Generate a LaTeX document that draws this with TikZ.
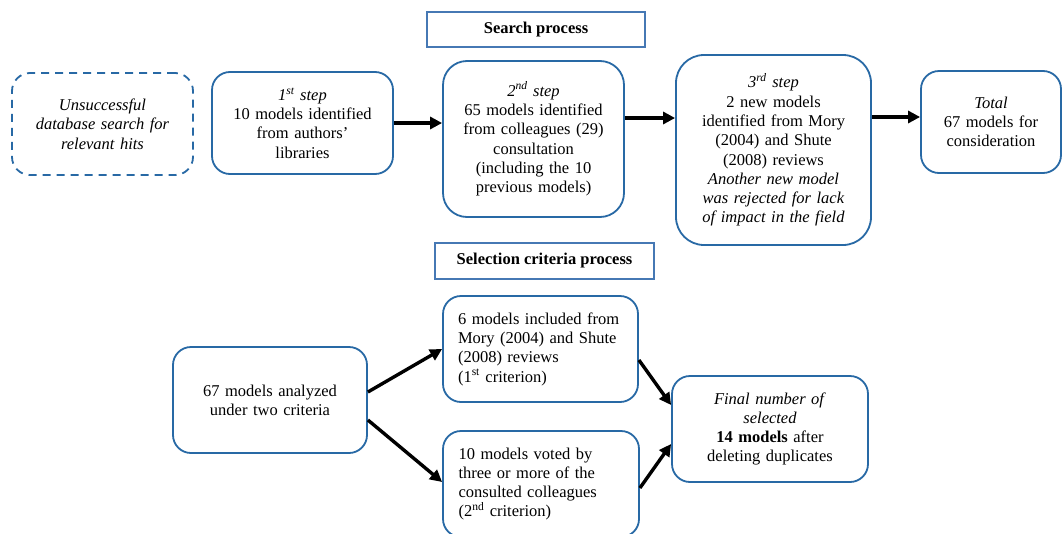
\documentclass[tikz,border=0pt]{standalone}
\usepackage{fontspec}
\setmainfont{Liberation Serif}
\usetikzlibrary{arrows.meta,calc}
\definecolor{bord}{RGB}{40,105,165}
\definecolor{hbord}{RGB}{70,120,180}
\begin{document}
\begin{tikzpicture}[x=1pt,y=-1pt,
  box/.style={draw=bord,line width=1.8pt,rounded corners=18pt,align=center,inner sep=0pt,
    font=\fontsize{16.5}{19.3}\selectfont},
  dbox/.style={box,dash pattern=on 8pt off 6pt},
  head/.style={draw=hbord,line width=1.3pt,inner sep=0pt,font=\fontsize{16.5}{19.3}\selectfont\bfseries},
  arr/.style={line width=3.4pt,-{Triangle[length=12pt,width=12pt]}}]
\clip (0,0) rectangle (1062,533);
\fill[white] (0,0) rectangle (1062,533);
\node[head,minimum width=218pt,minimum height=35pt] (h1) at (536,29.5) {Search process};
\node[head,minimum width=219pt,minimum height=36pt] (h2) at (544.5,261) {Selection criteria process};
\node[dbox,minimum width=181pt,minimum height=102pt,text width=170pt] (u) at (102.5,124)
  {\textit{Unsuccessful}\\ \textit{database search for}\\ \textit{relevant hits}};
\node[box,minimum width=181pt,minimum height=102pt,text width=170pt] (s1) at (302.5,123)
  {\textit{1\textsuperscript{st} step}\\ 10 models identified\\ from authors’\\ libraries};
\node[box,minimum width=181pt,minimum height=156pt,text width=170pt,rounded corners=24pt] (s2) at (533.5,139)
  {\textit{2\textsuperscript{nd} step}\\ 65 models identified\\ from colleagues (29)\\ consultation\\ (including the 10\\ previous models)};
\node[box,minimum width=195pt,minimum height=190pt,text width=185pt,rounded corners=28pt] (s3) at (773.5,150)
  {\textit{3\textsuperscript{rd} step}\\ 2 new models\\ identified from Mory\\ (2004) and Shute\\ (2008) reviews\\
   \textit{Another new model}\\ \textit{was rejected for lack}\\ \textit{of impact in the field}};
\node[box,minimum width=140pt,minimum height=102pt,text width=135pt] (tot) at (991,122)
  {\textit{Total}\\ 67 models for\\ consideration};
\node[box,minimum width=194pt,minimum height=106pt,text width=185pt] (a) at (270,400)
  {67 models analyzed\\ under two criteria};
\node[box,minimum width=195pt,minimum height=106pt,text width=165pt,align=left] (b) at (540.5,349)
  {6 models included from\\ Mory (2004) and Shute\\ (2008) reviews\\ (1\textsuperscript{st} criterion)};
\node[box,minimum width=196pt,minimum height=106pt,text width=165pt,align=left] (c) at (541,484)
  {10 models voted by\\ three or more of the\\ consulted colleagues\\ (2\textsuperscript{nd} criterion)};
\node[box,minimum width=196pt,minimum height=106pt,text width=185pt] (f) at (770,429)
  {\textit{Final number of}\\ \textit{selected}\\ \textbf{14 models} after\\ deleting duplicates};
\draw[arr] (s1.east) -- (s1.east -| s2.west);
\draw[arr] ([yshift=21pt]s2.east) -- ([yshift=21pt]s2.east -| s3.west);
\draw[arr] ([yshift=5pt]tot.west -| s3.east) -- ([yshift=5pt]tot.west);
\draw[arr] ([yshift=8pt]a.east) -- (b.west);
\draw[arr] ([yshift=-20pt]a.east) -- ([yshift=2pt]c.west);
\draw[arr] ([yshift=-11pt]b.east) -- ([yshift=24pt]f.west);
\draw[arr] ([yshift=-4pt]c.east) -- ([yshift=-15pt]f.west);
\end{tikzpicture}
\end{document}
